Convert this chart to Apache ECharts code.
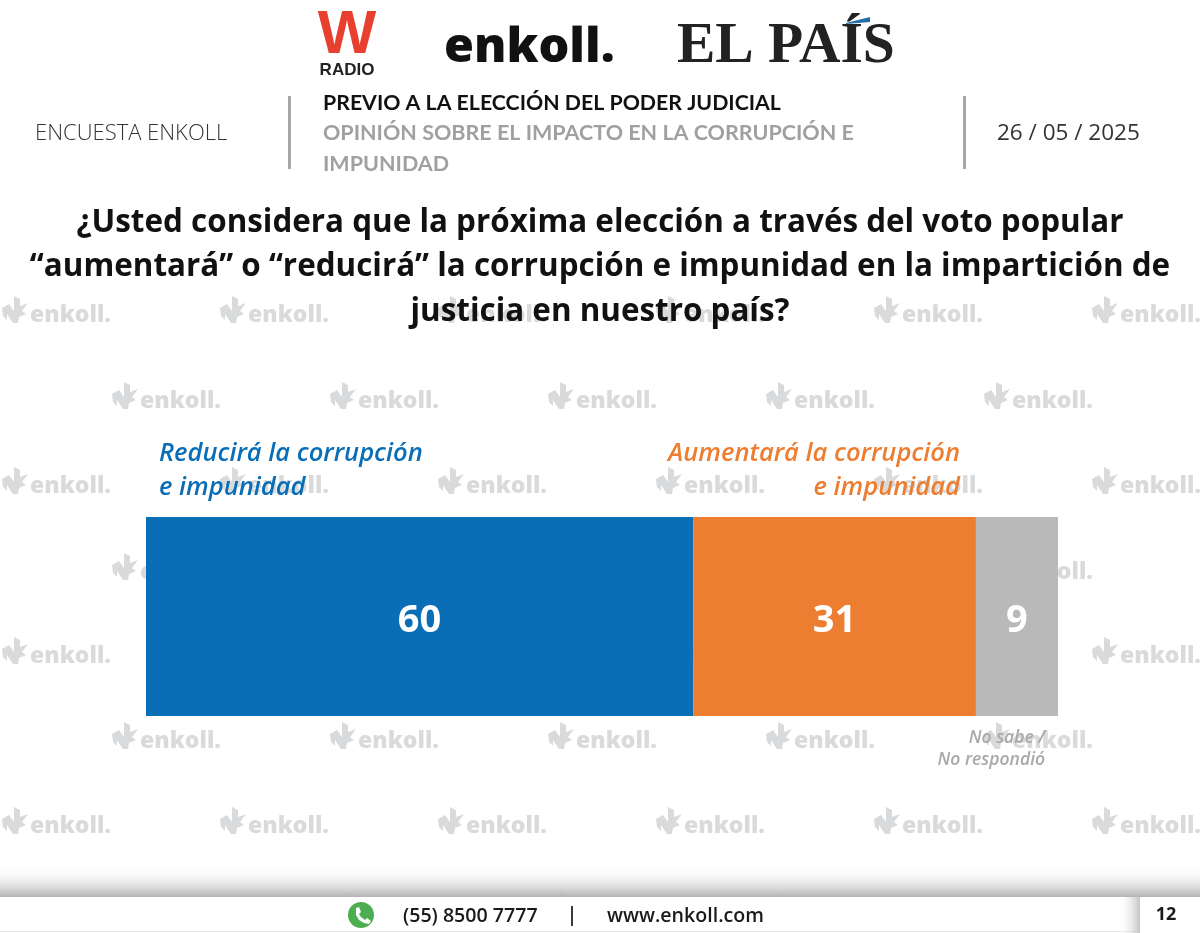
<!DOCTYPE html>
<html>
<head>
<meta charset="utf-8">
<title>Encuesta Enkoll</title>
<style>
html,body{margin:0;padding:0;background:#fff;}
#main{width:1200px;height:933px;}
</style>
<script src="https://cdn.jsdelivr.net/npm/echarts@6/dist/echarts.min.js"></script>
</head>
<body>
<div id="main"></div>
<script>
var categories = ['Opinión'];
var seriesNames = ['Reducirá la corrupción e impunidad', 'Aumentará la corrupción e impunidad', 'No sabe / No respondió'];
var reducira = [60];
var aumentara = [31];
var noSabe = [9];
var colors = ['#0a6eb7', '#ed7d31', '#b9b9b9'];

var titleLines = [
	'¿Usted considera que la próxima elección a través del voto popular',
	'“aumentará” o “reducirá” la corrupción e impunidad en la impartición de',
	'justicia en nuestro país?'
];

var GRAY_WM = '#d9dadc';
var SANS = '"Open Sans", sans-serif';
var els = [];

function txt(text, x, y, font, fill, align, z) {
	els.push({
		type: 'text', z: z === undefined ? 1 : z,
		style: { text: text, x: x, y: y, font: font, fill: fill, textAlign: align || 'left', textVerticalAlign: 'middle' }
	});
}

// marca de agua de fondo
var wmMark = [[2,12],[9,8],[14,15],[14,0],[20,3],[20,10],[28,7],[22,15],[26,18],[19,21],[18,27],[13,27],[7,18],[7,24],[3,20]];
function watermark(x, y) {
	els.push({
		type: 'polygon', z: 0, x: x, y: y,
		shape: { points: wmMark },
		style: { fill: GRAY_WM }
	});
	txt('enkoll.', x + 30, y + 19, '800 23px ' + SANS, GRAY_WM, 'left', 0);
}
var rows = [[296, 0], [382, 110], [467, 0], [553, 110], [637, 0], [722, 110], [807, 0], [890, 110]];
rows.forEach(function (r) {
	for (var x = r[1]; x < 1200; x += 218) {
		watermark(x, r[0]);
	}
});

// pie de pagina
els.push({
	type: 'rect', z: 1, shape: { x: 0, y: 864, width: 1200, height: 33 },
	style: { fill: new echarts.graphic.LinearGradient(0, 0, 0, 1, [
		{ offset: 0, color: 'rgba(255,255,255,0)' },
		{ offset: 0.6, color: 'rgba(225,225,225,0.8)' },
		{ offset: 1, color: '#b4b4b4' }
	]) }
});
els.push({ type: 'rect', z: 1, shape: { x: 0, y: 897, width: 1200, height: 36 }, style: { fill: '#fff' } });
els.push({ type: 'rect', z: 1, shape: { x: 0, y: 931, width: 1140, height: 1 }, style: { fill: '#e6e6e6' } });
els.push({
	type: 'rect', z: 1, shape: { x: 1118, y: 897, width: 22, height: 36 },
	style: { fill: new echarts.graphic.LinearGradient(0, 0, 1, 0, [
		{ offset: 0, color: 'rgba(255,255,255,0)' },
		{ offset: 1, color: '#c4c4c4' }
	]) }
});
els.push({ type: 'circle', z: 1, shape: { cx: 361, cy: 915, r: 13 }, style: { fill: '#4cae50' } });
els.push({
	type: 'polygon', z: 1,
	shape: { points: [[356,908],[359,907],[361,912],[359,914],[361,917],[365,920],[367,918],[371,921],[369,924],[364,923],[359,920],[356,915]] },
	style: { fill: '#fff' }
});
txt('(55) 8500 7777', 403, 916, '600 19.6px ' + SANS, '#1a1a1a');
txt('|', 572, 915, '600 20px ' + SANS, '#1a1a1a', 'center');
txt('www.enkoll.com', 607, 916, '600 19.6px ' + SANS, '#1a1a1a');
txt('12', 1166, 915, '700 18px ' + SANS, '#1a1a1a', 'center');

// logos
txt('W', 347, 36, 'bold 62px "Liberation Sans"', '#e8402f', 'center');
txt('RADIO', 347, 70, 'bold 17px "Liberation Sans"', '#222', 'center');
txt('enkoll.', 444, 48, '800 48.5px ' + SANS, '#111');
txt('EL PAÍS', 677, 47, 'bold 57.5px "Liberation Serif"', '#222');
els.push({ type: 'polygon', z: 1, shape: { points: [[846,23],[870,17],[870,22],[846,24]] }, style: { fill: '#1f6fa8' } });

// encabezado
txt('ENCUESTA ENKOLL', 35, 134, '300 22px ' + SANS, '#333');
txt('26 / 05 / 2025', 997, 134, '400 22.5px ' + SANS, '#333');
els.push({ type: 'rect', z: 1, shape: { x: 288, y: 96, width: 3, height: 73 }, style: { fill: '#a6a6a6' } });
els.push({ type: 'rect', z: 1, shape: { x: 963, y: 96, width: 3, height: 73 }, style: { fill: '#a6a6a6' } });
txt('PREVIO A LA ELECCIÓN DEL PODER JUDICIAL', 323, 103, 'bold 21.3px Lato', '#111');
txt('OPINIÓN SOBRE EL IMPACTO EN LA CORRUPCIÓN E', 323, 133, 'bold 21.5px Lato', '#a0a0a0');
txt('IMPUNIDAD', 323, 164, 'bold 21.5px Lato', '#a0a0a0');

// pregunta
titleLines.forEach(function (line, i) {
	txt(line, 600, 223 + i * 44.5, '700 31.4px ' + SANS, '#111', 'center');
});

// etiquetas de las series
var LABEL_FONT = 'italic 600 25.5px ' + SANS;
txt('Reducirá la corrupción', 159, 454, LABEL_FONT, colors[0]);
txt('e impunidad', 159, 488, LABEL_FONT, colors[0]);
txt('Aumentará la corrupción', 960, 454, LABEL_FONT, colors[1], 'right');
txt('e impunidad', 960, 488, LABEL_FONT, colors[1], 'right');
txt('No sabe /', 1045, 738, 'italic 600 17.5px ' + SANS, '#a9a9a9', 'right');
txt('No respondió', 1045, 760, 'italic 600 17.5px ' + SANS, '#a9a9a9', 'right');

function barSeries(name, data, color) {
	return {
		name: name,
		type: 'bar',
		stack: 'total',
		barWidth: 199,
		data: data,
		itemStyle: { color: color },
		label: {
			show: true,
			position: 'inside',
			offset: [0, 5],
			color: '#fff',
			fontFamily: 'Open Sans',
			fontWeight: 700,
			fontSize: 38
		}
	};
}

var myChart = echarts.init(document.getElementById('main'), null, { renderer: 'canvas' });
myChart.setOption({
	backgroundColor: '#fff',
	animation: false,
	grid: { left: 146, top: 517, width: 912, height: 199 },
	xAxis: { type: 'value', min: 0, max: 100, show: false },
	yAxis: { type: 'category', data: categories, show: false },
	graphic: { elements: els },
	series: [
		barSeries(seriesNames[0], reducira, colors[0]),
		barSeries(seriesNames[1], aumentara, colors[1]),
		barSeries(seriesNames[2], noSabe, colors[2])
	]
});
</script>
</body>
</html>
